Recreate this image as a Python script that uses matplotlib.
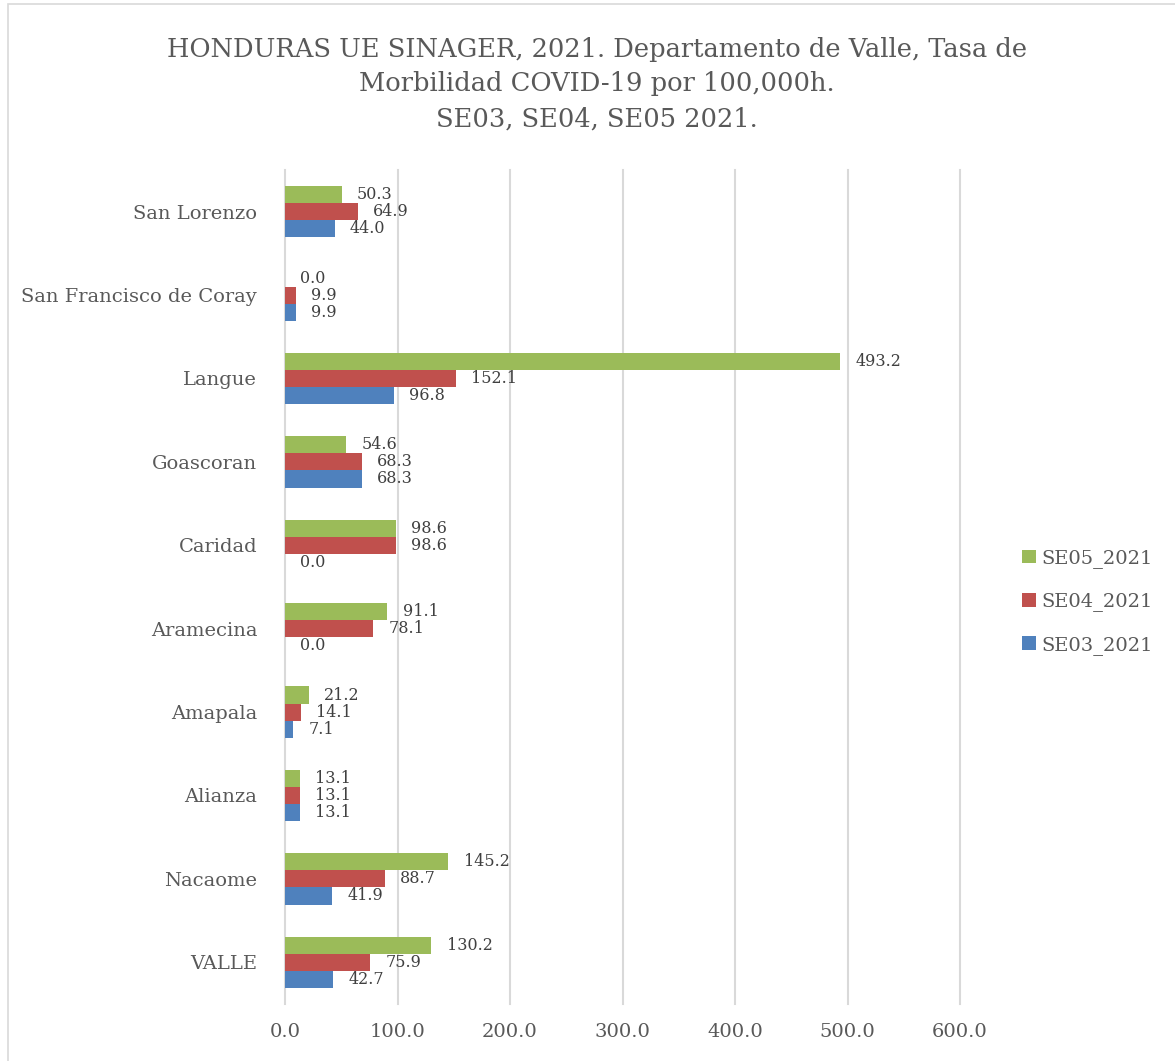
import matplotlib.pyplot as plt
import matplotlib.patches as mpatches
import numpy as np

plt.rcParams['font.family'] = ['DejaVu Serif']

municipios = ['VALLE', 'Nacaome', 'Alianza', 'Amapala', 'Aramecina',
              'Caridad', 'Goascoran', 'Langue', 'San Francisco de Coray', 'San Lorenzo']
se03 = [42.7, 41.9, 13.1, 7.1, 0.0, 0.0, 68.3, 96.8, 9.9, 44.0]
se04 = [75.9, 88.7, 13.1, 14.1, 78.1, 98.6, 68.3, 152.1, 9.9, 64.9]
se05 = [130.2, 145.2, 13.1, 21.2, 91.1, 98.6, 54.6, 493.2, 0.0, 50.3]
xticks = [0, 100, 200, 300, 400, 500, 600]

gris = '#595959'
fig = plt.figure(figsize=(11.75, 10.61), dpi=100)
ax = fig.add_axes([285/1175, 1 - 1004/1061, (960-285)/1175, (1004-170)/1061])

y = np.arange(len(municipios))
h = 0.205
series = [(se03, '#4F81BD', 'SE03_2021', -h),
          (se04, '#C0504D', 'SE04_2021', 0),
          (se05, '#9BBB59', 'SE05_2021', h)]
for vals, col, lab, off in series:
    ax.barh(y + off, vals, height=h, color=col, label=lab, zorder=3)
    for yi, v in zip(y, vals):
        ax.annotate(f'{v:.1f}', (v, yi + off), xytext=(11, 0), textcoords='offset points',
                    ha='left', va='center', fontsize=11.5, color='#404040')

ax.set_xlim(0, 600)
ax.set_ylim(-0.5, len(municipios) - 0.5)
ax.set_xticks(xticks)
ax.set_xticklabels([f'{t:.1f}' for t in xticks], fontsize=14, color=gris)
ax.set_yticks(y)
ax.set_yticklabels(municipios, fontsize=14, color=gris)
ax.tick_params(length=0, pad=14, axis='x')
ax.tick_params(length=0, pad=20, axis='y')
ax.grid(axis='x', color='#D9D9D9', linewidth=1.5, zorder=0)
for gl in ax.get_xgridlines():
    gl.set_clip_on(False)
for s in ax.spines.values():
    s.set_visible(False)

handles, labels = ax.get_legend_handles_labels()
leg = fig.legend(handles[::-1], labels[::-1], loc='center left',
                 bbox_to_anchor=(1022/1175, 1 - 602/1061), frameon=False,
                 fontsize=14, handlelength=0.7, handleheight=0.7, handletextpad=0.3,
                 labelspacing=1.25, borderaxespad=0, borderpad=0)
for t in leg.get_texts():
    t.set_color(gris)

fig.text(0.508, 1 - 84/1061,
         'HONDURAS UE SINAGER, 2021. Departamento de Valle, Tasa de\n'
         'Morbilidad COVID-19 por 100,000h.\nSE03, SE04, SE05 2021.',
         ha='center', va='center', fontsize=18.5, color=gris, linespacing=1.5)

fig.patches.append(mpatches.Rectangle((8/1175, -0.01), 1.2, 1 - 4/1061 + 0.01,
                                      transform=fig.transFigure,
                                      fill=False, edgecolor='#D9D9D9', linewidth=1.2))

fig.savefig('out.png', dpi=100)
